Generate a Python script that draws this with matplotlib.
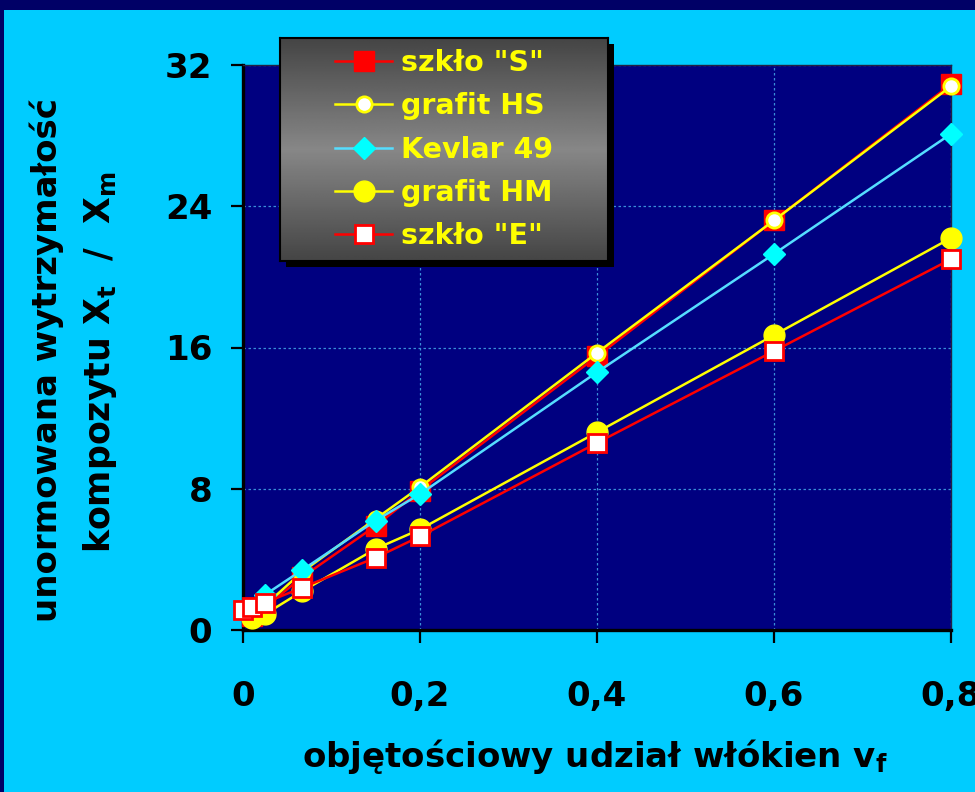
import numpy as np
import matplotlib
matplotlib.use("Agg")
import matplotlib.pyplot as plt
from matplotlib.patches import Rectangle

plt.rcParams['font.family'] = ['DejaVu Sans']
plt.rcParams['font.weight'] = 'bold'
plt.rcParams['mathtext.fontset'] = 'dejavusans'

# ---- data ----
vf_e = [0.0, 0.01, 0.025, 0.067, 0.15, 0.2, 0.4, 0.6, 0.8]
vf = [0.01, 0.025, 0.067, 0.15, 0.2, 0.4, 0.6, 0.8]
szklo_s = [0.8, 1.3, 3.0, 5.9, 7.9, 15.5, 23.2, 30.9]
grafit_hs = [0.8, 1.4, 3.3, 6.3, 8.1, 15.7, 23.2, 30.8]
kevlar_49 = [0.9, 2.0, 3.4, 6.2, 7.7, 14.6, 21.3, 28.1]
grafit_hm = [0.7, 0.9, 2.2, 4.6, 5.7, 11.2, 16.7, 22.2]
szklo_e = [1.13, 1.3, 1.55, 2.4, 4.1, 5.3, 10.6, 15.8, 21.0]

labels = ['szkło "S"', 'grafit HS', 'Kevlar 49', 'grafit HM', 'szkło "E"']
xticks = [0, 0.2, 0.4, 0.6, 0.8]
xticklabels = ['0', '0,2', '0,4', '0,6', '0,8']
yticks = [0, 8, 16, 24, 32]

W, H = 975, 792
fig = plt.figure(figsize=(W / 100, H / 100), dpi=100)
fig.patch.set_facecolor('#00CCFF')

# navy border bands
fig.add_artist(Rectangle((0, 1 - 10 / H), 1, 10 / H, transform=fig.transFigure,
                         facecolor='#000066', edgecolor='none', zorder=0))
fig.add_artist(Rectangle((0, 0), 4 / W, 1, transform=fig.transFigure,
                         facecolor='#000066', edgecolor='none', zorder=0))

ax = fig.add_axes([243 / W, (H - 630) / H, 708 / W, 565 / H])
ax.set_facecolor('#000080')
ax.set_xlim(0, 0.8)
ax.set_ylim(0, 32)

ax.set_xticks(xticks)
ax.set_xticklabels(xticklabels)
ax.set_yticks(yticks)
ax.tick_params(axis='both', direction='out', length=9, width=1.6, color='black',
               labelsize=24.5, labelcolor='black')
ax.tick_params(axis='x', pad=27)
ax.tick_params(axis='y', pad=13)
for lab in ax.get_xticklabels() + ax.get_yticklabels():
    lab.set_fontweight('bold')

ax.grid(True, color='#3A8FD8', linestyle=(0, (2, 2)), linewidth=0.9)
ax.set_axisbelow(True)

for s in ['left', 'bottom']:
    ax.spines[s].set_color('black')
    ax.spines[s].set_linewidth(2.4)
for s in ['top', 'right']:
    ax.spines[s].set_color('#222244')
    ax.spines[s].set_linewidth(1.0)

lw = 1.8
h1, = ax.plot(vf, szklo_s, color='#FF0000', lw=lw, marker='s', ms=14.5,
              mfc='#FF0000', mec='#FF0000', clip_on=False, zorder=5)
h2, = ax.plot(vf, grafit_hs, color='#FFFF00', lw=lw, marker='o', ms=11,
              mfc='white', mec='#FFFF00', mew=2, clip_on=False, zorder=6)
h3, = ax.plot(vf, kevlar_49, color='#55DDFF', lw=lw, marker='D', ms=11.5,
              mfc='#00FFFF', mec='#00FFFF', clip_on=False, zorder=7)
h4, = ax.plot(vf, grafit_hm, color='#FFFF00', lw=lw, marker='o', ms=15,
              mfc='#FFFF00', mec='#FFFF00', clip_on=False, zorder=8)
h5, = ax.plot(vf_e, szklo_e, color='#FF0000', lw=lw, marker='s', ms=13.5,
              mfc='white', mec='#FF0000', mew=2, clip_on=False, zorder=9)

# axis titles
fig.text(47 / W, (H - 360) / H, 'unormowana wytrzymałość', rotation=90,
         ha='center', va='center', fontsize=24.5, fontweight='bold', color='black')
fig.text(100 / W, (H - 362) / H, r'kompozytu X$_\mathbf{t}$  /  X$_\mathbf{m}$', rotation=90,
         ha='center', va='center', fontsize=25, fontweight='bold', color='black')
fig.text(595 / W, (H - 757) / H, r'objętościowy udział włókien v$_\mathbf{f}$',
         ha='center', va='center', fontsize=24.5, fontweight='bold', color='black')

# legend box with gradient and shadow
bx, by, bw, bh = 280 / W, (H - 261) / H, 328 / W, 223 / H
fig.add_artist(Rectangle((bx + 6 / W, by - 6 / H), bw, bh, transform=fig.transFigure,
                         facecolor='black', edgecolor='none', zorder=10))
lax = fig.add_axes([bx, by, bw, bh], zorder=11)
t = np.linspace(0, 1, 256)
g = 0.27 + 0.26 * (1 - np.abs(2 * t - 1))
grad = np.tile(g[:, None], (1, 2))
lax.imshow(grad, cmap='gray', vmin=0, vmax=1, aspect='auto', extent=[0, 1, 0, 1])
lax.set_xticks([])
lax.set_yticks([])
for s in lax.spines.values():
    s.set_color('black')
    s.set_linewidth(1.5)
leg = lax.legend([h1, h2, h3, h4, h5], labels, loc='center', frameon=False,
                 fontsize=20.5, handlelength=2.0, handletextpad=0.3,
                 labelspacing=0.54, borderpad=0.1)
for txt in leg.get_texts():
    txt.set_color('#FFFF00')
    txt.set_fontweight('bold')

fig.savefig('out.png', dpi=100, facecolor=fig.get_facecolor())
